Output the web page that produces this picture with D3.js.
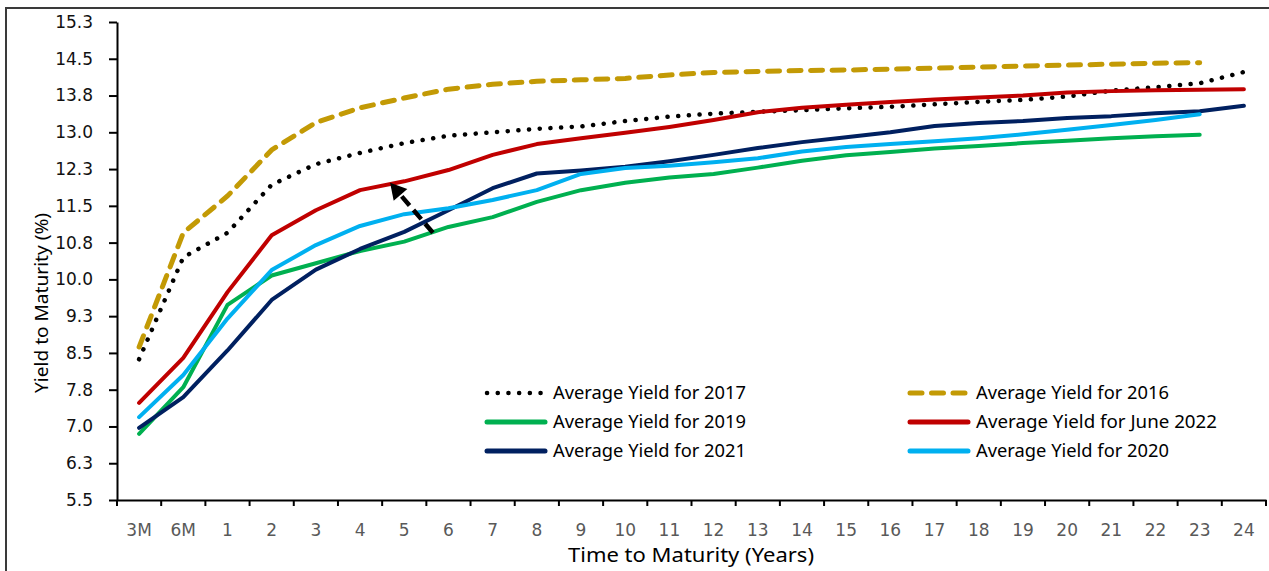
<!DOCTYPE html>
<html>
<head>
<meta charset="utf-8">
<script src="https://cdn.jsdelivr.net/npm/d3@7"></script>
<style>
  html, body { margin: 0; padding: 0; background: #fff; }
  svg { display: block; }
</style>
</head>
<body>
<svg id="chart" width="1269" height="571"></svg>
<script>
// ---------- DATA ----------
const categories = ["3M","6M","1","2","3","4","5","6","7","8","9","10","11","12","13","14","15","16","17","18","19","20","21","22","23","24"];
const yTickValues = [5.5, 6.25, 7, 7.75, 8.5, 9.25, 10, 10.75, 11.5, 12.25, 13, 13.75, 14.5, 15.25];

const yield2017 = [8.37,10.45,10.95,11.93,12.35,12.58,12.78,12.93,13.0,13.07,13.12,13.23,13.32,13.38,13.42,13.45,13.49,13.52,13.57,13.62,13.66,13.73,13.85,13.92,14.0,14.23];
const yield2016 = [8.62,10.95,11.7,12.64,13.2,13.5,13.7,13.88,13.98,14.04,14.07,14.1,14.17,14.22,14.24,14.26,14.27,14.29,14.31,14.33,14.35,14.37,14.39,14.41,14.42,null];
const yield2019 = [6.85,7.8,9.48,10.08,10.33,10.58,10.77,11.07,11.27,11.58,11.82,11.97,12.08,12.15,12.28,12.42,12.53,12.6,12.67,12.72,12.78,12.83,12.88,12.92,12.95,null];
const yieldJune2022 = [7.48,8.4,9.74,10.9,11.41,11.82,12.0,12.23,12.54,12.76,12.88,12.99,13.11,13.25,13.41,13.5,13.56,13.62,13.67,13.71,13.75,13.81,13.84,13.86,13.87,13.88];
const yield2021 = [6.97,7.6,8.55,9.58,10.2,10.62,10.97,11.41,11.86,12.16,12.22,12.3,12.41,12.54,12.68,12.8,12.9,13.0,13.13,13.19,13.23,13.29,13.33,13.39,13.43,13.54];
const yield2020 = [7.19,8.05,9.2,10.19,10.7,11.09,11.33,11.45,11.62,11.82,12.15,12.27,12.32,12.39,12.47,12.61,12.7,12.76,12.82,12.88,12.96,13.05,13.15,13.25,13.37,null];

const seriesNames = ["Average Yield for 2017","Average Yield for 2016","Average Yield for 2019","Average Yield for June 2022","Average Yield for 2021","Average Yield for 2020"];
const seriesValues = [yield2017, yield2016, yield2019, yieldJune2022, yield2021, yield2020];
const seriesColors = ["#000000","#C39A05","#00B050","#C00000","#002060","#00B0F0"];
const seriesStyles = ["dot","dash","solid","solid","solid","solid"];

// annotation arrow (fractional category index, value)
const arrowFrom = {idx: 6.65, value: 10.95};
const arrowTo = {idx: 5.68, value: 11.97};

// ---------- LAYOUT ----------
const svg = d3.select("#chart");
const plotL = 117, plotR = 1266, plotT = 22, plotB = 500;

const x = d3.scaleBand().domain(categories).range([plotL, plotR]).padding(0);
const y = d3.scaleLinear().domain([5.5, 15.25]).range([plotB, plotT]);
const cx = c => x(c) + x.bandwidth() / 2;
const xi = i => cx(categories[0]) + i * x.bandwidth();

// frame
svg.append("rect").attr("x", 6).attr("y", 8).attr("width", 1400).attr("height", 700)
  .attr("fill", "none").attr("stroke", "#3a3a3a").attr("stroke-width", 2);

// Y axis
const yAxis = svg.append("g").attr("transform", `translate(${plotL},0)`)
  .call(d3.axisLeft(y).tickValues(yTickValues).tickFormat(d3.format(".1f")).tickSize(8).tickSizeOuter(0).tickPadding(16));
yAxis.select(".domain").attr("stroke", "#000").attr("stroke-width", 2);
yAxis.selectAll(".tick line").attr("stroke", "#000").attr("stroke-width", 2);
yAxis.selectAll(".tick text").attr("font-family", "DejaVu Sans").attr("font-size", 17).attr("fill", "#111");

// X axis (labels at band centres, ticks at band boundaries)
const xAxis = svg.append("g").attr("transform", `translate(0,${plotB})`)
  .call(d3.axisBottom(x).tickSize(0).tickSizeOuter(0).tickPadding(24));
xAxis.select(".domain").attr("stroke", "#000").attr("stroke-width", 2);
xAxis.selectAll(".tick text").attr("font-family", "DejaVu Sans").attr("font-size", 17).attr("fill", "#595959");
const boundaries = categories.map(c => x(c)).concat([x.range()[1]]);
xAxis.selectAll("line.bnd").data(boundaries).enter().append("line").attr("class", "bnd")
  .attr("x1", d => d).attr("x2", d => d).attr("y1", 0).attr("y2", 6)
  .attr("stroke", "#000").attr("stroke-width", 2);

// axis titles
svg.append("text").attr("x", 691).attr("y", 562).attr("text-anchor", "middle")
  .attr("font-family", "Noto Sans").attr("font-size", 20).attr("fill", "#000")
  .attr("textLength", 246).attr("lengthAdjust", "spacingAndGlyphs")
  .text("Time to Maturity (Years)");
svg.append("text").attr("transform", "translate(48,303) rotate(-90)").attr("text-anchor", "middle")
  .attr("font-family", "Noto Sans").attr("font-size", 18).attr("fill", "#000")
  .attr("textLength", 180).attr("lengthAdjust", "spacingAndGlyphs")
  .text("Yield to Maturity (%)");

// lines
const line = d3.line().defined(d => d != null).x((d, i) => cx(categories[i])).y(d => y(d));
function styleLine(sel, k) {
  sel.attr("fill", "none").attr("stroke", seriesColors[k]);
  if (seriesStyles[k] === "dot") {
    sel.attr("stroke-width", 4.5).attr("stroke-dasharray", "0.1 10.6").attr("stroke-linecap", "round");
  } else if (seriesStyles[k] === "dash") {
    sel.attr("stroke-width", 5).attr("stroke-dasharray", "12 9.5").attr("stroke-linecap", "round");
  } else {
    sel.attr("stroke-width", 4).attr("stroke-linejoin", "round").attr("stroke-linecap", "round");
  }
}
seriesValues.forEach((vals, k) => {
  const p = svg.append("path").datum(vals).attr("d", line);
  styleLine(p, k);
});

// arrow annotation
const ax1 = xi(arrowFrom.idx), ay1 = y(arrowFrom.value);
const ax2 = xi(arrowTo.idx), ay2 = y(arrowTo.value);
const ang = Math.atan2(ay2 - ay1, ax2 - ax1);
const headLen = 16, headW = 9;
const bx = ax2 - headLen * Math.cos(ang), by = ay2 - headLen * Math.sin(ang);
svg.append("line").attr("x1", ax1).attr("y1", ay1).attr("x2", bx).attr("y2", by)
  .attr("stroke", "#000").attr("stroke-width", 4.5).attr("stroke-dasharray", "12 6");
svg.append("path")
  .attr("d", `M${ax2},${ay2}L${bx + headW * Math.sin(ang)},${by - headW * Math.cos(ang)}L${bx - headW * Math.sin(ang)},${by + headW * Math.cos(ang)}Z`)
  .attr("fill", "#000");

// legend
const legX = [485, 908], legTextX = [553, 976], legY = [393, 422, 451];
const legTextLen = [193, 193, 193, 241, 193, 193];
seriesNames.forEach((name, k) => {
  const col = k % 2, row = Math.floor(k / 2);
  const g = svg.append("g");
  const s = g.append("line").attr("x1", legX[col] + 2).attr("x2", legX[col] + 60).attr("y1", legY[row]).attr("y2", legY[row]);
  styleLine(s, k);
  if (seriesStyles[k] === "solid") s.attr("stroke-width", 5);
  g.append("text").attr("x", legTextX[col]).attr("y", legY[row] + 6)
    .attr("font-family", "Noto Sans").attr("font-size", 18).attr("fill", "#000")
    .attr("textLength", legTextLen[k]).attr("lengthAdjust", "spacingAndGlyphs")
    .text(name);
});
</script>
</body>
</html>
